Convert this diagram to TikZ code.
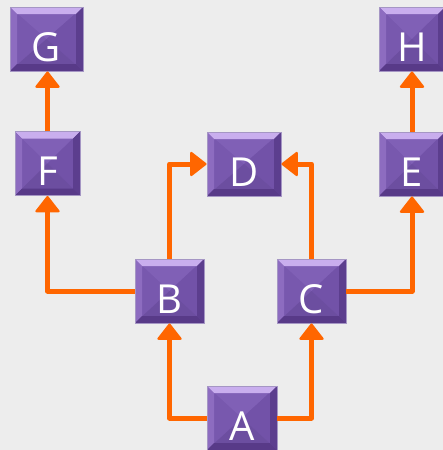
\documentclass[tikz,border=0pt]{standalone}
\usepackage{fontspec}
\setsansfont{Open Sans}
\usepackage{tikz}
\usetikzlibrary{
  arrows.meta
}
\colorlet{paper}{black!7}
\definecolor{boxFace}{HTML}{7858AE}
\definecolor{boxFaceTop}{HTML}{8060B6}
\definecolor{boxFaceSide}{HTML}{7252A8}
\definecolor{boxTop}{HTML}{C9AEEE}
\definecolor{boxLeft}{HTML}{8D6CC0}
\definecolor{boxRight}{HTML}{5C3E8E}
\definecolor{boxBottom}{HTML}{583A88}
\definecolor{boxEdge}{HTML}{A596C4}
\definecolor{linkColor}{HTML}{FF6600}

\begin{document}
\begin{tikzpicture}[
  x=1pt,
  y=-1pt,
  every task/.style={
    draw=boxEdge,
    line width=0.8pt,
    fill=boxFace,
    minimum height=64pt,
    inner sep=0pt,
    text=white,
    font=\sffamily\fontsize{40}{40}\selectfont,
    text height=44pt,
    text depth=0pt,
    path picture={
      \fill[boxFaceTop] (path picture bounding box.north west)
        -- (path picture bounding box.north east)
        -- (path picture bounding box.center) -- cycle;
      \fill[boxFaceSide] (path picture bounding box.north east)
        -- (path picture bounding box.south east)
        -- (path picture bounding box.center) -- cycle;
      \fill[boxFaceSide!95!black] (path picture bounding box.south west)
        -- (path picture bounding box.south east)
        -- (path picture bounding box.center) -- cycle;
      \fill[boxTop] (path picture bounding box.north west)
        -- (path picture bounding box.north east)
        -- ([xshift=-7pt,yshift=-7pt]path picture bounding box.north east)
        -- ([xshift=7pt,yshift=-7pt]path picture bounding box.north west) -- cycle;
      \fill[boxLeft] (path picture bounding box.north west)
        -- (path picture bounding box.south west)
        -- ([xshift=7pt,yshift=7pt]path picture bounding box.south west)
        -- ([xshift=7pt,yshift=-7pt]path picture bounding box.north west) -- cycle;
      \fill[boxRight] (path picture bounding box.north east)
        -- (path picture bounding box.south east)
        -- ([xshift=-7pt,yshift=7pt]path picture bounding box.south east)
        -- ([xshift=-7pt,yshift=-7pt]path picture bounding box.north east) -- cycle;
      \fill[boxBottom] (path picture bounding box.south west)
        -- (path picture bounding box.south east)
        -- ([xshift=-7pt,yshift=7pt]path picture bounding box.south east)
        -- ([xshift=7pt,yshift=7pt]path picture bounding box.south west) -- cycle;
    },
  },
  task/.style={
    every task,
    minimum width=#1,
  },
  every link/.style={
    draw=linkColor,
    line width=5pt,
    line join=round,
    -{Triangle[round,length=17pt,width=26pt,line width=2pt]},
  },
]
\fill[paper] (0,0) rectangle (443,450);
\useasboundingbox (0,0) rectangle (443,450);

% boxes
\node[task=73pt] (G) at (46.5,39) {G};
\node[task=66pt] (H) at (412,39) {H};
\node[task=65pt] (F) at (47.5,163.5) {F};
\node[task=74pt] (D) at (244,164) {D};
\node[task=66pt] (E) at (412,164) {E};
\node[task=69pt] (B) at (169.5,291) {B};
\node[task=69pt] (C) at (311.5,291) {C};
\node[task=70pt] (A) at (242,418) {A};

% links
\draw[every link] (A.west) -| (B.south);
\draw[every link] (A.east) -| (C.south);
\draw[every link] (B.west) -| (F.south);
\draw[every link] (B.north) |- (D.west);
\draw[every link] (C.north) |- (D.east);
\draw[every link] (C.east) -| (E.south);
\draw[every link] (F.north) -- (F.north |- G.south);
\draw[every link] (E.north) -- (H.south);
\end{tikzpicture}
\end{document}
